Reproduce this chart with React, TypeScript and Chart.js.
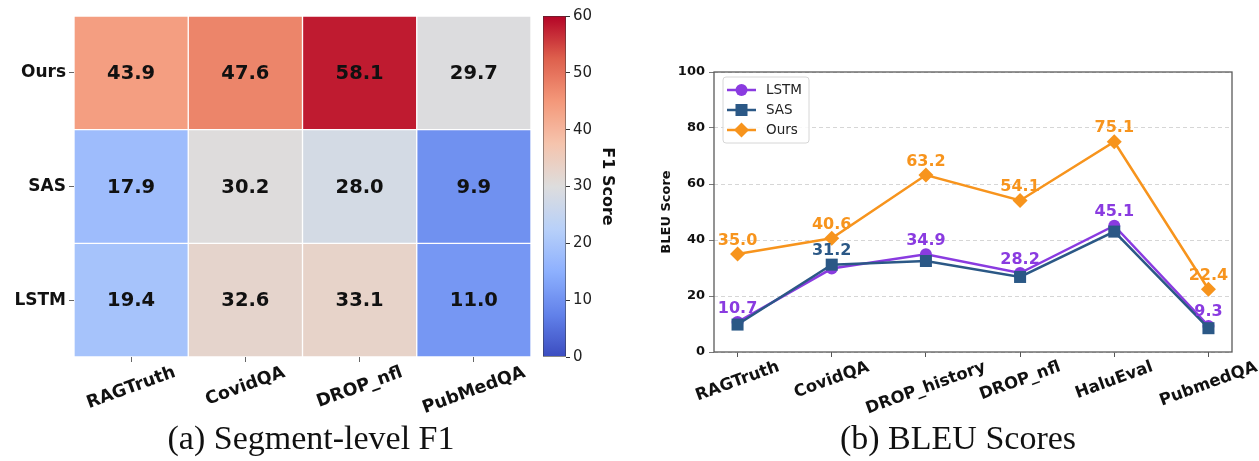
import React, { useEffect, useRef } from 'react';
import { Chart, registerables } from 'chart.js';

Chart.register(...registerables);

const FONT = "'DejaVu Sans', sans-serif";
Chart.defaults.font.family = FONT;

// ---------------- data: heatmap (a) ----------------
const heatColumns = ['RAGTruth', 'CovidQA', 'DROP_nfl', 'PubMedQA'];
const heatRows = ['LSTM', 'SAS', 'Ours']; // bottom to top
const heatLSTM = [19.4, 32.6, 33.1, 11.0];
const heatSAS = [17.9, 30.2, 28.0, 9.9];
const heatOurs = [43.9, 47.6, 58.1, 29.7];
const colorbarTicks = [0, 10, 20, 30, 40, 50, 60];
const colorbarTitle = 'F1 Score';

// ---------------- data: BLEU lines (b) ----------------
const bleuCategories = ['RAGTruth', 'CovidQA', 'DROP_history', 'DROP_nfl', 'HaluEval', 'PubmedQA'];
const bleuLSTM = [10.7, 29.8, 34.9, 28.2, 45.1, 9.3];
const bleuSAS = [9.8, 31.2, 32.5, 26.8, 43.0, 8.5];
const bleuOurs = [35.0, 40.6, 63.2, 54.1, 75.1, 22.4];
const bleuYTicks = [0, 20, 40, 60, 80, 100];
const bleuTitle = 'BLEU Score';

const captionA = '(a) Segment-level F1';
const captionB = '(b) BLEU Scores';

const C_LSTM = '#8A3BE0';
const C_SAS = '#2B5886';
const C_OURS = '#F7941D';

// matplotlib "coolwarm" anchor points
const COOLWARM: number[][] = [
  [0, 59, 76, 192],
  [0.125, 98, 130, 234],
  [0.25, 141, 176, 254],
  [0.375, 184, 208, 249],
  [0.5, 221, 221, 221],
  [0.625, 245, 196, 173],
  [0.75, 244, 152, 122],
  [0.875, 222, 96, 77],
  [1, 180, 4, 38],
];

function coolwarm(t: number): string {
  const tt = Math.max(0, Math.min(1, t));
  for (let i = 0; i < COOLWARM.length - 1; i++) {
    const a = COOLWARM[i];
    const b = COOLWARM[i + 1];
    if (tt >= a[0] && tt <= b[0]) {
      const f = (tt - a[0]) / (b[0] - a[0]);
      const r = Math.round(a[1] + (b[1] - a[1]) * f);
      const g = Math.round(a[2] + (b[2] - a[2]) * f);
      const bl = Math.round(a[3] + (b[3] - a[3]) * f);
      return `rgb(${r},${g},${bl})`;
    }
  }
  return 'rgb(180,4,38)';
}

function drawRotatedXLabels(chart: any, labelFor: (v: number, i: number) => string, size: number, angleDeg: number, pad: number) {
  const scale = chart.scales.x;
  const ctx = chart.ctx;
  const a = (angleDeg * Math.PI) / 180;
  ctx.save();
  ctx.font = `bold ${size}px ${FONT}`;
  ctx.fillStyle = '#111';
  ctx.textAlign = 'center';
  ctx.textBaseline = 'middle';
  scale.ticks.forEach((t: any, i: number) => {
    const label = labelFor(t.value, i);
    const x = scale.getPixelForTick(i);
    const w = ctx.measureText(label).width;
    const h = size * 1.1;
    const bh = w * Math.sin(a) + h * Math.cos(a);
    const y = scale.top + pad + bh / 2;
    ctx.save();
    ctx.translate(x, y);
    ctx.rotate(-a);
    ctx.fillText(label, 0, 0);
    ctx.restore();
  });
  ctx.restore();
}

function drawMarker(ctx: CanvasRenderingContext2D, style: string, x: number, y: number, r: number) {
  ctx.beginPath();
  if (style === 'circle') {
    ctx.arc(x, y, r, 0, Math.PI * 2);
  } else if (style === 'rect') {
    const s = r * Math.SQRT1_2;
    ctx.rect(x - s, y - s, 2 * s, 2 * s);
  } else {
    ctx.moveTo(x, y - r);
    ctx.lineTo(x + r, y);
    ctx.lineTo(x, y + r);
    ctx.lineTo(x - r, y);
    ctx.closePath();
  }
  ctx.fill();
}

function makeHeatmap(canvas: HTMLCanvasElement) {
  const heatValues = [heatLSTM, heatSAS, heatOurs];
  const vmin = colorbarTicks[0];
  const vmax = colorbarTicks[colorbarTicks.length - 1];
  const cellLabels = {
    id: 'cellLabels',
    afterDatasetsDraw(chart: any) {
      const ctx = chart.ctx;
      ctx.save();
      ctx.font = `bold 19.5px ${FONT}`;
      ctx.fillStyle = '#111';
      ctx.textAlign = 'center';
      ctx.textBaseline = 'middle';
      chart.data.datasets.forEach((ds: any, di: number) => {
        const meta = chart.getDatasetMeta(di);
        meta.data.forEach((el: any, i: number) => {
          const p = el.getProps(['x', 'y', 'base'], true);
          ctx.fillText(ds.heat[i].toFixed(1), p.x, (p.y + p.base) / 2 + 1);
        });
      });
      ctx.restore();
    },
    afterDraw(chart: any) {
      drawRotatedXLabels(chart, (_v, i) => heatColumns[i], 17.5, 20, 6);
    },
  };
  return new Chart(canvas, {
    type: 'bar',
    data: {
      labels: heatColumns,
      datasets: heatRows.map((row, r) => ({
        label: row,
        data: heatValues[r].map(() => 1),
        heat: heatValues[r],
        backgroundColor: heatValues[r].map((v) => coolwarm((v - vmin) / (vmax - vmin))),
        borderColor: '#ffffff',
        borderWidth: 1,
        borderSkipped: false,
        barPercentage: 1,
        categoryPercentage: 1,
      })) as any,
    },
    options: {
      animation: false,
      responsive: false,
      maintainAspectRatio: false,
      layout: { padding: { top: 16, right: 9, left: 0, bottom: 0 } },
      plugins: { legend: { display: false }, tooltip: { enabled: false } },
      scales: {
        x: {
          stacked: true,
          ticks: { display: false },
          grid: { drawOnChartArea: false, offset: false, tickLength: 5, color: '#666' },
          border: { display: false },
          afterFit: (s: any) => {
            s.height = 63;
          },
        },
        y: {
          type: 'linear',
          stacked: true,
          min: 0,
          max: 3,
          afterBuildTicks: (s: any) => {
            s.ticks = heatRows.map((_, i) => ({ value: i + 0.5 }));
          },
          ticks: {
            callback: (v: any) => heatRows[Math.floor(Number(v))],
            font: { size: 17, weight: 'bold' },
            color: '#111',
            padding: 3,
          },
          grid: { drawOnChartArea: false, tickLength: 5, color: '#666' },
          border: { display: false },
          afterFit: (s: any) => {
            s.width = 74;
          },
        },
      },
    } as any,
    plugins: [cellLabels],
  });
}

function makeColorbar(canvas: HTMLCanvasElement) {
  const vmin = colorbarTicks[0];
  const vmax = colorbarTicks[colorbarTicks.length - 1];
  return new Chart(canvas, {
    type: 'bar',
    data: {
      labels: [colorbarTitle],
      datasets: [
        {
          data: [[vmin, vmax]],
          backgroundColor: (c: any) => {
            const chart = c.chart;
            const ys = chart.scales && chart.scales.y;
            if (!ys) return '#dddddd';
            const y0 = ys.getPixelForValue(vmin);
            const y1 = ys.getPixelForValue(vmax);
            if (!isFinite(y0) || !isFinite(y1) || y0 === y1) return '#dddddd';
            const g = chart.ctx.createLinearGradient(0, y0, 0, y1);
            for (let k = 0; k <= 40; k++) g.addColorStop(k / 40, coolwarm(k / 40));
            return g;
          },
          borderColor: '#333',
          borderWidth: 0.8,
          borderSkipped: false,
          barPercentage: 1,
          categoryPercentage: 1,
        },
      ] as any,
    },
    options: {
      animation: false,
      responsive: false,
      maintainAspectRatio: false,
      layout: { padding: { top: 16, right: 0, left: 13, bottom: 63 } },
      plugins: { legend: { display: false }, tooltip: { enabled: false } },
      scales: {
        x: { display: false },
        y: {
          position: 'right',
          min: vmin,
          max: vmax,
          afterBuildTicks: (s: any) => {
            s.ticks = colorbarTicks.map((v) => ({ value: v }));
          },
          ticks: { font: { size: 15 }, color: '#222', padding: 3 },
          grid: { drawOnChartArea: false, tickLength: 4, color: '#333' },
          border: { display: false },
          title: {
            display: true,
            text: colorbarTitle,
            font: { size: 16, weight: 'bold' },
            color: '#111',
            padding: { top: 13.5, bottom: 0 },
          },
          afterFit: (s: any) => {
            s.width = 64;
          },
        },
      },
    } as any,
  });
}

function makeLines(canvas: HTMLCanvasElement) {
  const extras = {
    id: 'bleuExtras',
    afterDatasetsDraw(chart: any) {
      const ctx = chart.ctx;
      ctx.save();
      ctx.font = `bold 16px ${FONT}`;
      ctx.textAlign = 'center';
      ctx.textBaseline = 'alphabetic';
      const mOurs = chart.getDatasetMeta(2);
      const mLSTM = chart.getDatasetMeta(0);
      const mSAS = chart.getDatasetMeta(1);
      bleuOurs.forEach((v, i) => {
        const el = mOurs.data[i];
        ctx.fillStyle = C_OURS;
        ctx.fillText(v.toFixed(1), el.x, el.y - 9.5);
      });
      bleuCategories.forEach((_, i) => {
        const useLSTM = bleuLSTM[i] >= bleuSAS[i];
        const el = useLSTM ? mLSTM.data[i] : mSAS.data[i];
        const v = useLSTM ? bleuLSTM[i] : bleuSAS[i];
        ctx.fillStyle = useLSTM ? C_LSTM : C_SAS;
        ctx.fillText(v.toFixed(1), el.x, el.y - 9.5);
      });
      ctx.restore();
    },
    afterDraw(chart: any) {
      const ctx = chart.ctx;
      const a = chart.chartArea;
      // frame
      ctx.save();
      ctx.strokeStyle = '#5a5a5a';
      ctx.lineWidth = 1.3;
      ctx.strokeRect(a.left, a.top, a.right - a.left, a.bottom - a.top);
      ctx.restore();
      // legend
      const x0 = a.left + 9;
      const y0 = a.top + 5;
      ctx.save();
      ctx.fillStyle = 'rgba(255,255,255,0.85)';
      ctx.strokeStyle = '#d6d6d6';
      ctx.lineWidth = 1;
      ctx.beginPath();
      const w = 86, h = 66, r = 3;
      ctx.moveTo(x0 + r, y0);
      ctx.lineTo(x0 + w - r, y0);
      ctx.quadraticCurveTo(x0 + w, y0, x0 + w, y0 + r);
      ctx.lineTo(x0 + w, y0 + h - r);
      ctx.quadraticCurveTo(x0 + w, y0 + h, x0 + w - r, y0 + h);
      ctx.lineTo(x0 + r, y0 + h);
      ctx.quadraticCurveTo(x0, y0 + h, x0, y0 + h - r);
      ctx.lineTo(x0, y0 + r);
      ctx.quadraticCurveTo(x0, y0, x0 + r, y0);
      ctx.closePath();
      ctx.fill();
      ctx.stroke();
      chart.data.datasets.forEach((ds: any, i: number) => {
        const yy = y0 + 13 + 20 * i;
        ctx.strokeStyle = ds.borderColor;
        ctx.fillStyle = ds.borderColor;
        ctx.lineWidth = ds.borderWidth;
        ctx.beginPath();
        ctx.moveTo(x0 + 4, yy);
        ctx.lineTo(x0 + 33, yy);
        ctx.stroke();
        drawMarker(ctx, ds.pointStyle, x0 + 18.5, yy, ds.pointRadius);
        ctx.fillStyle = '#222';
        ctx.font = `13.5px ${FONT}`;
        ctx.textAlign = 'left';
        ctx.textBaseline = 'middle';
        ctx.fillText(ds.label, x0 + 43, yy + 0.5);
      });
      ctx.restore();
      drawRotatedXLabels(chart, (v) => bleuCategories[v], 16.5, 20, 6);
    },
  };
  const mk = (label: string, values: number[], color: string, style: string, radius: number, order: number) => ({
    label,
    data: values.map((y, i) => ({ x: i, y })),
    borderColor: color,
    backgroundColor: color,
    pointBackgroundColor: color,
    pointBorderColor: color,
    pointBorderWidth: 0,
    pointStyle: style,
    pointRadius: radius,
    borderWidth: 2.5,
    tension: 0,
    order,
  });
  return new Chart(canvas, {
    type: 'line',
    data: {
      datasets: [
        mk('LSTM', bleuLSTM, C_LSTM, 'circle', 6, 3),
        mk('SAS', bleuSAS, C_SAS, 'rect', 8.5, 2),
        mk('Ours', bleuOurs, C_OURS, 'rectRot', 7.5, 1),
      ] as any,
    },
    options: {
      animation: false,
      responsive: false,
      maintainAspectRatio: false,
      layout: { padding: { top: 72, right: 27, left: 0, bottom: 0 } },
      plugins: { legend: { display: false }, tooltip: { enabled: false } },
      scales: {
        x: {
          type: 'linear',
          min: -0.25,
          max: bleuCategories.length - 1 + 0.25,
          afterBuildTicks: (s: any) => {
            s.ticks = bleuCategories.map((_, i) => ({ value: i }));
          },
          ticks: { display: false },
          grid: { drawOnChartArea: false, tickLength: 5, color: '#555' },
          border: { display: false },
          afterFit: (s: any) => {
            s.height = 68;
          },
        },
        y: {
          min: bleuYTicks[0],
          max: bleuYTicks[bleuYTicks.length - 1],
          afterBuildTicks: (s: any) => {
            s.ticks = bleuYTicks.map((v) => ({ value: v }));
          },
          ticks: { font: { size: 13, weight: 'bold' }, color: '#111', padding: 4 },
          grid: { color: '#cccccc', lineWidth: 0.8, tickLength: 5, tickColor: '#555', tickBorderDash: [] },
          border: { display: false, dash: [4, 3] },
          title: {
            display: true,
            text: bleuTitle,
            font: { size: 13, weight: 'bold' },
            color: '#111',
            padding: { top: 39, bottom: 0 },
          },
          afterFit: (s: any) => {
            s.width = 94;
          },
        },
      },
    } as any,
    plugins: [extras],
  });
}

export default function App() {
  const heatRef = useRef<HTMLCanvasElement>(null);
  const cbRef = useRef<HTMLCanvasElement>(null);
  const lineRef = useRef<HTMLCanvasElement>(null);

  useEffect(() => {
    const charts: Chart[] = [];
    if (heatRef.current) charts.push(makeHeatmap(heatRef.current));
    if (cbRef.current) charts.push(makeColorbar(cbRef.current));
    if (lineRef.current) charts.push(makeLines(lineRef.current));
    return () => charts.forEach((c) => c.destroy());
  }, []);

  const capStyle: React.CSSProperties = {
    position: 'absolute',
    top: 418,
    height: 40,
    lineHeight: '40px',
    textAlign: 'center',
    fontFamily: "'Liberation Serif', serif",
    fontSize: 34,
    color: '#111',
    whiteSpace: 'nowrap',
  };

  return (
    <div style={{ position: 'absolute', left: 0, top: 0, width: 1259, height: 461, background: '#fff', overflow: 'hidden' }}>
      <canvas ref={heatRef} width={540} height={420} style={{ position: 'absolute', left: 0, top: 0, width: 540, height: 420 }} />
      <canvas ref={cbRef} width={100} height={420} style={{ position: 'absolute', left: 530, top: 0, width: 100, height: 420 }} />
      <canvas ref={lineRef} width={639} height={420} style={{ position: 'absolute', left: 620, top: 0, width: 639, height: 420 }} />
      <div style={{ ...capStyle, left: 0, width: 622 }}>{captionA}</div>
      <div style={{ ...capStyle, left: 640, width: 636 }}>{captionB}</div>
    </div>
  );
}
